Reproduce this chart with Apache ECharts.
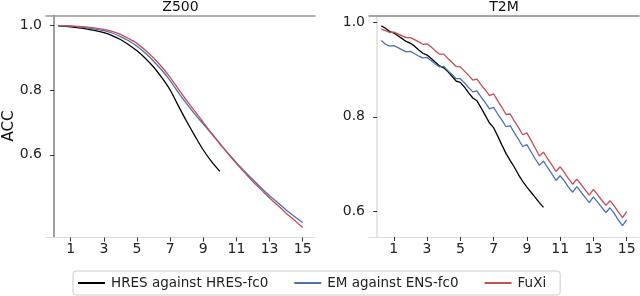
<!DOCTYPE html>
<html>
<head>
<meta charset="utf-8">
<script src="https://cdn.jsdelivr.net/npm/echarts@6/dist/echarts.min.js"></script>
<style>html,body{margin:0;padding:0;background:#fff}#c{width:640px;height:296px}</style>
</head>
<body>
<div id="c"></div>
<script>
// ---- data ----
const panelTitles = ['Z500', 'T2M'];
const seriesNames = ['HRES against HRES-fc0', 'EM against ENS-fc0', 'FuXi'];
const xTicks = [1, 3, 5, 7, 9, 11, 13, 15];
const yTicks = [0.6, 0.8, 1.0];

const z500Days = [0.25, 0.5, 1, 1.5, 2, 2.5, 3, 3.5, 4, 4.5, 5, 5.5, 6, 6.5, 7, 7.5, 8, 8.5, 9, 9.5, 10,
  10.5, 11, 11.5, 12, 12.5, 13, 13.5, 14, 14.5, 15];
const z500Hres = [0.998, 0.997, 0.995, 0.992, 0.988, 0.983, 0.977, 0.968, 0.956, 0.940, 0.921, 0.898, 0.871,
  0.838, 0.800, 0.751, 0.703, 0.658, 0.615, 0.579, 0.549];
const z500Em = [0.998, 0.998, 0.997, 0.995, 0.992, 0.988, 0.983, 0.976, 0.965, 0.952, 0.935, 0.914, 0.889,
  0.861, 0.829, 0.792, 0.757, 0.725, 0.695, 0.665, 0.635, 0.605, 0.576, 0.549, 0.523, 0.498, 0.474, 0.452,
  0.430, 0.410, 0.391];
const z500FuXi = [0.999, 0.999, 0.998, 0.996, 0.994, 0.991, 0.987, 0.981, 0.972, 0.959, 0.944, 0.923, 0.899,
  0.871, 0.839, 0.803, 0.767, 0.734, 0.700, 0.667, 0.634, 0.603, 0.573, 0.545, 0.517, 0.492, 0.467, 0.444,
  0.420, 0.398, 0.376];

const t2mDays = [0.25, 0.5, 0.75, 1, 1.25, 1.5, 1.75, 2, 2.25, 2.5, 2.75, 3, 3.25, 3.5, 3.75, 4, 4.25, 4.5, 4.75, 5,
  5.25, 5.5, 5.75, 6, 6.25, 6.5, 6.75, 7, 7.25, 7.5, 7.75, 8, 8.25, 8.5, 8.75, 9, 9.25, 9.5, 9.75, 10,
  10.25, 10.5, 10.75, 11, 11.25, 11.5, 11.75, 12, 12.25, 12.5, 12.75, 13, 13.25, 13.5, 13.75, 14, 14.25, 14.5, 14.75, 15];
const t2mHres = [0.993, 0.988, 0.981, 0.978, 0.972, 0.966, 0.960, 0.956, 0.950, 0.942, 0.935, 0.931, 0.924, 0.916,
  0.908, 0.904, 0.896, 0.886, 0.876, 0.873, 0.863, 0.851, 0.840, 0.834, 0.819, 0.803, 0.787, 0.777, 0.759, 0.740,
  0.722, 0.707, 0.693, 0.677, 0.663, 0.651, 0.640, 0.629, 0.618, 0.608];
const t2mEm = [0.962, 0.954, 0.950, 0.951, 0.947, 0.942, 0.938, 0.939, 0.934, 0.929, 0.925, 0.926, 0.919, 0.912,
  0.906, 0.907, 0.898, 0.890, 0.881, 0.881, 0.872, 0.862, 0.853, 0.855, 0.842, 0.830, 0.817, 0.820, 0.806, 0.793,
  0.779, 0.781, 0.766, 0.752, 0.737, 0.741, 0.726, 0.711, 0.697, 0.706, 0.692, 0.679, 0.665, 0.675, 0.664, 0.651,
  0.640, 0.652, 0.641, 0.629, 0.618, 0.630, 0.619, 0.608, 0.597, 0.607, 0.595, 0.581, 0.569, 0.582];
const t2mFuXi = [0.986, 0.983, 0.979, 0.980, 0.976, 0.972, 0.968, 0.968, 0.964, 0.959, 0.954, 0.955, 0.948, 0.940,
  0.933, 0.933, 0.924, 0.916, 0.907, 0.906, 0.897, 0.888, 0.878, 0.880, 0.868, 0.857, 0.845, 0.849, 0.834, 0.820,
  0.805, 0.806, 0.791, 0.777, 0.762, 0.766, 0.750, 0.734, 0.717, 0.725, 0.711, 0.698, 0.684, 0.694, 0.682, 0.669,
  0.657, 0.668, 0.657, 0.645, 0.634, 0.646, 0.635, 0.623, 0.612, 0.622, 0.611, 0.598, 0.586, 0.599];

const colors = ['#000000', '#4c72b0', '#c44e52'];
const FONT = 'DejaVu Sans';

function zip(xs, ys) { return ys.map((y, i) => [xs[i], y]); }

const grids = [
  { left: 46, top: 15.5, width: 269, height: 222 },
  { left: 369, top: 16, width: 270, height: 221 }
];
const yRanges = [[0.345, 1.03], [0.545, 1.014]];
const frameColors = [
  { left: '#999', top: '#999', right: '#999', bottom: '#ddd' },
  { left: '#ddd', top: '#888', right: 'transparent', bottom: '#ddd' }
];

const xAxis = [], yAxis = [];
grids.forEach((g, i) => {
  const fc = frameColors[i];
  xAxis.push({
    type: 'value', gridIndex: i, min: -0.49, max: 15.74, position: 'bottom',
    axisLine: { show: true, lineStyle: { color: fc.bottom, width: 1 } },
    axisTick: { show: true, customValues: xTicks, length: 4, lineStyle: { color: '#333', width: 1 } },
    axisLabel: { show: true, customValues: xTicks, margin: 5, fontFamily: FONT, fontSize: 14, color: '#222' },
    splitLine: { show: false }
  });
  xAxis.push({
    type: 'value', gridIndex: i, min: -0.49, max: 15.74, position: 'top',
    axisLine: { show: true, lineStyle: { color: fc.top, width: 1.5 } },
    axisTick: { show: false }, axisLabel: { show: false }, splitLine: { show: false }
  });
  yAxis.push({
    type: 'value', gridIndex: i, min: yRanges[i][0], max: yRanges[i][1], position: 'left',
    axisLine: { show: true, lineStyle: { color: fc.left, width: 1.5 } },
    axisTick: { show: true, customValues: yTicks, length: 4, lineStyle: { color: '#333', width: 1 } },
    axisLabel: { show: true, customValues: yTicks, margin: 4, fontFamily: FONT, fontSize: 14, color: '#222',
      formatter: v => v.toFixed(1) },
    splitLine: { show: false }
  });
  yAxis.push({
    type: 'value', gridIndex: i, min: yRanges[i][0], max: yRanges[i][1], position: 'right',
    axisLine: { show: true, lineStyle: { color: fc.right, width: 1.5 } },
    axisTick: { show: false }, axisLabel: { show: false }, splitLine: { show: false }
  });
});

function line(name, data, gi, color, smooth) {
  return {
    type: 'line', name, data, xAxisIndex: gi * 2, yAxisIndex: gi * 2,
    showSymbol: false, symbol: 'none', smooth: smooth, animation: false,
    lineStyle: { color, width: 1.3 }, itemStyle: { color }, z: 3
  };
}

const series = [
  line(seriesNames[0], zip(z500Days, z500Hres), 0, colors[0], 0.3),
  line(seriesNames[1], zip(z500Days, z500Em), 0, colors[1], 0.3),
  line(seriesNames[2], zip(z500Days, z500FuXi), 0, colors[2], 0.3),
  line(seriesNames[0], zip(t2mDays, t2mHres), 1, colors[0], false),
  line(seriesNames[1], zip(t2mDays, t2mEm), 1, colors[1], false),
  line(seriesNames[2], zip(t2mDays, t2mFuXi), 1, colors[2], false)
];

const chart = echarts.init(document.getElementById('c'), null, { renderer: 'canvas' });
chart.setOption({
  animation: false,
  backgroundColor: '#fff',
  title: panelTitles.map((t, i) => ({
    text: t, left: grids[i].left + grids[i].width / 2, top: 0, textAlign: 'center', padding: 0,
    textStyle: { fontFamily: FONT, fontSize: 14, fontWeight: 'normal', color: '#111' }
  })),
  grid: grids,
  xAxis, yAxis, series,
  legend: {
    data: seriesNames, left: 73, top: 271, orient: 'horizontal',
    padding: [5, 14, 5, 5], itemGap: 26, itemWidth: 27, itemHeight: 2, icon: 'rect',
    borderColor: '#ccc', borderWidth: 1, borderRadius: 3, backgroundColor: '#fff',
    textStyle: { fontFamily: FONT, fontSize: 13.5, color: '#222', padding: [0, 0, 0, 1] },
    selectedMode: false
  },
  graphic: [{
    type: 'text', x: 9, y: 126, rotation: Math.PI / 2,
    style: { text: 'ACC', fontFamily: FONT, fontSize: 15, fill: '#111', align: 'center', verticalAlign: 'middle' }
  }]
});
</script>
</body>
</html>
